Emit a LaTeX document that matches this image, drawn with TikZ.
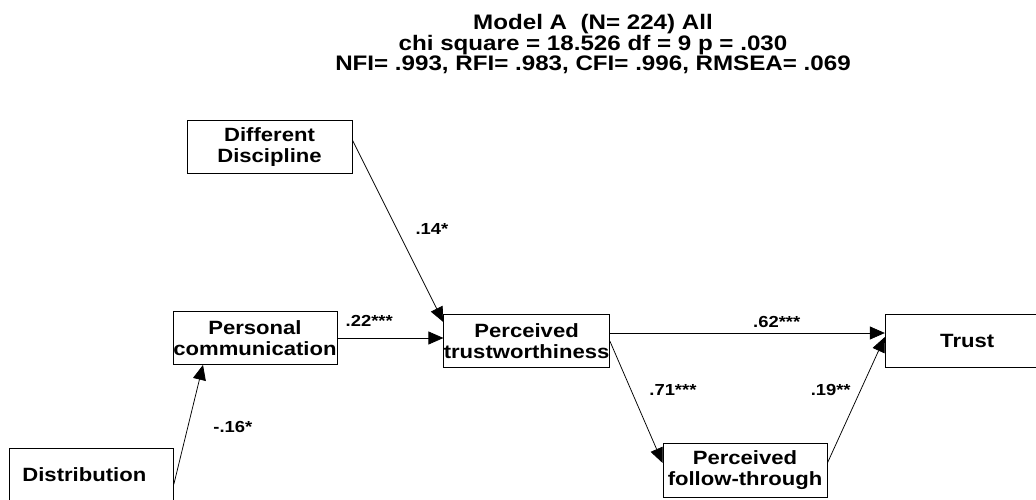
\documentclass[tikz,border=0pt]{standalone}
\usepackage{fontspec}
\newfontfamily\diagfont[FakeStretch=1.15]{Liberation Sans}
\usepackage{tikz}
\usetikzlibrary{arrows.meta, positioning}

\begin{document}
\begin{tikzpicture}[x=1pt,y=-1pt,
    var/.style={draw, line width=0.8pt, minimum width=164pt, minimum height=53pt,
      inner sep=0pt, align=center, font=\diagfont\bfseries\fontsize{19.2}{21.5}\selectfont},
    coef/.style={font=\diagfont\bfseries\fontsize{16}{18}\selectfont},
    path/.style={-{Triangle[length=15pt,width=13pt]}, line width=0.75pt}]
  \clip (0,0) rectangle (1036,500);

  \node[align=center, font=\diagfont\bfseries\fontsize{21}{18.5}\selectfont] (title) at (593,44)
    {Model A\ \ (N= 224) All\\chi square = 18.526 df = 9 p = .030\\NFI= .993, RFI= .983, CFI= .996, RMSEA= .069};

  \node[var]                      (perscom) at (255,338) {Personal\\communication};
  \node[var, minimum width=165pt] (disc)    at (269.5,147) {Different\\Discipline};
  \node[var, right=106pt of perscom, yshift=-3pt] (trustw) {Perceived\\trustworthiness};
  \node[var, right=275pt of trustw]               (trust)  {Trust};
  \node[var, minimum height=54pt] (follow)  at (745,470) {Perceived\\follow-through};
  \node[var, anchor=north west, text width=138pt, align=left, inner xsep=13pt,
    text height=33pt, text depth=39pt] (distr) at (9,448) {Distribution};

  % paths
  \draw[path] ([yshift=7pt]disc.east) -- node[coef, pos=.49, xshift=35pt] {.14*}
    ([yshift=-8pt]trustw.north west);
  \draw[path] (perscom.east) -- node[coef, pos=.3, yshift=17pt] {.22***}
    (perscom.east -| trustw.west);
  \draw[path] (distr.east) -- node[coef, pos=.48, xshift=45pt] {-.16*}
    ([xshift=-52pt]perscom.south);
  \draw[path] ([yshift=8pt]trustw.east) -- node[coef, pos=.607, yshift=11pt] {.62***}
    ([yshift=8pt]trustw.east -| trust.west);
  \draw[path] (trustw.east) -- node[coef, pos=.4, xshift=42pt] {.71***}
    ([yshift=7pt]follow.west);
  \draw[path] ([yshift=7pt]follow.east) -- node[coef, pos=.58, xshift=-30pt] {.19**}
    ([yshift=4pt]trust.west);
\end{tikzpicture}
\end{document}
